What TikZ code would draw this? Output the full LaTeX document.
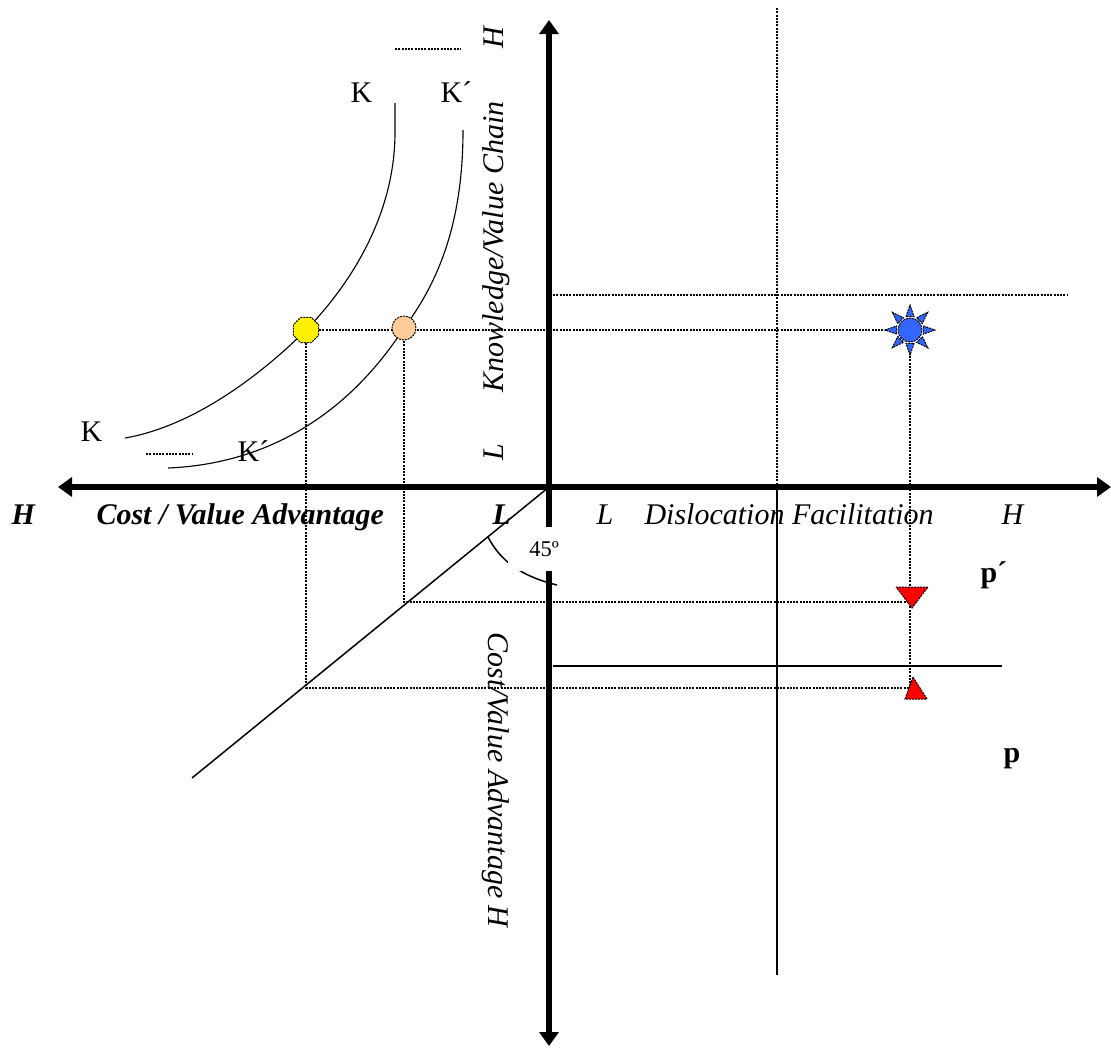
\documentclass[tikz,border=0pt]{standalone}
\usepackage{fontspec}
\setmainfont{Liberation Serif}
\usepackage{tikz}
\usetikzlibrary{arrows.meta}
\usetikzlibrary{shapes.geometric}
\definecolor{peach}{RGB}{255,204,153}
\definecolor{sunblue}{RGB}{51,102,255}

\begin{document}
\begin{tikzpicture}[x=0.4pt, y=-0.4pt,
        axis/.style={line width=2.2pt, {Triangle[length=5.6pt, width=7.6pt]}-{Triangle[length=5.6pt, width=7.6pt]}},
        guide/.style={dash pattern=on 0.8pt off 0.5pt, line width=0.5pt},
        rule/.style={line width=0.55pt},
        curve/.style={line width=0.45pt},
        lbl/.style={inner sep=0pt, anchor=base west, font=\fontsize{12}{14}\selectfont},
        blob/.style={draw=black, dash pattern=on 0.8pt off 0.4pt, line width=0.4pt, inner sep=0pt}
      ]
        \useasboundingbox (0,0) rectangle (1111,1048);

        \coordinate (origin) at (549,487);
        \coordinate (ytop)   at (549,20);
        \coordinate (ybot)   at (549,1046);
        \coordinate (xleft)  at (58,487);
        \coordinate (xright) at (1111,487);
        \coordinate (yel)    at (306,330);
        \coordinate (pch)    at (404,328);
        \coordinate (sun)    at (910,330);
        \coordinate (pdn)    at (912,602);
        \coordinate (pup)    at (913,688);
        \coordinate (diag)   at (192,778);

        \draw[guide] (777,8) -- (777,487);
        \draw[rule]  (777,487) -- (777,975);
        \draw[guide] (553,295) -- (1068,295);
        \draw[rule]  (553,666) -- (1002,666);

        \draw[guide] (yel) -- (sun);
        \draw[guide] (yel) |- (pup);
        \draw[guide] (pch) |- (pdn);
        \draw[guide] (sun) -- (sun |- pup);

        \draw[guide] (395,49) -- (461,49);
        \draw[guide] (146,454) -- (193,454);
        \draw[curve] (395,103) -- (395,132) .. controls (395,220) and (345,290) .. (yel)
                     .. controls (270,366) and (200,425) .. (125,438);
        \draw[curve] (463,130) .. controls (463,220) and (440,280) .. (pch)
                     .. controls (379,366) and (310,462) .. (168,468);

        \draw[axis] (ybot) -- (ytop);
        \draw[axis] (xleft) -- (xright);
        \draw[line width=0.6pt] (origin) -- (diag);
        \draw[line width=0.6pt] (488,537) .. controls (500,560) and (520,576) .. (557,585);
        \node[fill=white, inner sep=0pt, minimum width=29pt, minimum height=17.6pt, font=\fontsize{9}{10}\selectfont] (angle) at (544,549) {45º};

        \node[blob, fill=yellow, regular polygon, regular polygon sides=8, minimum size=11pt] (yelmark) at (yel) {};
        \node[blob, fill=peach, circle, minimum size=9.6pt] (pchmark) at (pch) {};
        \foreach \a in {0,45,...,315}
          \draw[blob, fill=sunblue] ([shift={(\a-17:14)}]sun) -- ([shift={(\a:25)}]sun) -- ([shift={(\a+17:14)}]sun) -- cycle;
        \node[blob, fill=sunblue, circle, minimum size=9.6pt] (sunmark) at (sun) {};
        \draw[blob, fill=red] (pdn) ++(-16,-15) -- ++(32,0) -- ++(-16,21) -- cycle;
        \draw[blob, fill=red] (pup) ++(0,-11) -- ++(14,22) -- ++(-22,0) -- cycle;

        \node[lbl] (kA) at (350,102) {K};
        \node[lbl] (kB) at (440,102) {K´};
        \node[lbl] (kC) at (80,441)  {K};
        \node[lbl] (kD) at (237,461) {K´};

        \node[lbl] (hleft)  at (11,524)   {\bfseries\itshape H};
        \node[lbl] (cost)   at (96,524)   {\bfseries\itshape Cost / Value Advantage};
        \node[lbl] (lleft)  at (492,524)  {\bfseries\itshape L};
        \node[lbl] (lright) at (596,524)  {\itshape L};
        \node[lbl] (disloc) at (644,524)  {\itshape Dislocation Facilitation};
        \node[lbl] (hright) at (1001,524) {\itshape H};

        \node[lbl, anchor=base, rotate=90]  (htop)  at (503,38)  {\itshape H};
        \node[lbl, anchor=base, rotate=90]  (know)  at (503,247) {\itshape Knowledge/Value Chain};
        \node[lbl, anchor=base, rotate=90]  (ltop)  at (503,452) {\itshape L};
        \node[lbl, anchor=base, rotate=-90] (costv) at (488,780) {\itshape Cost/Value Advantage H};

        \node[lbl] (pprime) at (980,582)  {\bfseries p´};
        \node[lbl] (p)      at (1003,762) {\bfseries p};
      \end{tikzpicture}
\end{document}
